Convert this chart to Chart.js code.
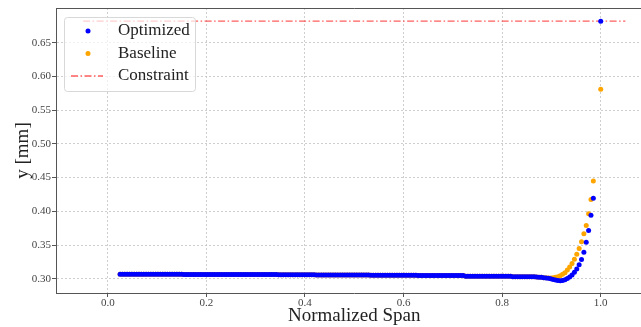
<!DOCTYPE html>
<html><head><meta charset="utf-8">
<script src="https://cdn.jsdelivr.net/npm/chart.js@4/dist/chart.umd.min.js"></script>
<style>
html,body{margin:0;padding:0;background:#fff;overflow:hidden;width:641px;height:327px}
canvas{display:block}
</style></head><body>
<canvas id="c" width="660" height="327" style="width:660px;height:327px"></canvas>
<script>
// Normalized span stations (x)
const spanX = [
0.025,0.0298,0.0346,0.0394,0.0442,0.049,0.0538,0.0586,0.0634,0.0682,
0.073,0.0778,0.0826,0.0874,0.0922,0.097,0.1018,0.1066,0.1114,0.1162,
0.121,0.1258,0.1306,0.1354,0.1402,0.145,0.1498,0.1546,0.1594,0.1642,
0.169,0.1738,0.1786,0.1834,0.1882,0.193,0.1978,0.2026,0.2074,0.2122,
0.217,0.2218,0.2266,0.2314,0.2362,0.241,0.2458,0.2506,0.2554,0.2602,
0.265,0.2698,0.2746,0.2794,0.2842,0.289,0.2938,0.2986,0.3034,0.3082,
0.313,0.3178,0.3226,0.3274,0.3322,0.337,0.3418,0.3466,0.3514,0.3562,
0.361,0.3658,0.3706,0.3754,0.3802,0.385,0.3898,0.3946,0.3994,0.4042,
0.409,0.4138,0.4186,0.4234,0.4282,0.433,0.4378,0.4426,0.4474,0.4522,
0.457,0.4618,0.4666,0.4714,0.4762,0.481,0.4858,0.4906,0.4954,0.5002,
0.505,0.5098,0.5146,0.5194,0.5242,0.529,0.5338,0.5386,0.5434,0.5482,
0.553,0.5578,0.5626,0.5674,0.5722,0.577,0.5818,0.5866,0.5914,0.5962,
0.601,0.6058,0.6106,0.6154,0.6202,0.625,0.6298,0.6346,0.6394,0.6442,
0.649,0.6538,0.6586,0.6634,0.6682,0.673,0.6778,0.6826,0.6874,0.6922,
0.697,0.7018,0.7066,0.7114,0.7162,0.721,0.7258,0.7306,0.7354,0.7402,
0.745,0.7498,0.7546,0.7594,0.7642,0.769,0.7738,0.7786,0.7834,0.7882,
0.793,0.7978,0.8026,0.8074,0.8122,0.817,0.8218,0.8266,0.8314,0.8362,
0.841,0.8458,0.8506,0.8554,0.8602,0.865,0.8698,0.8746,0.8794,0.8842,
0.889,0.8938,0.8986,0.9034,0.9082,0.913,0.9178,0.9226,0.9274,0.9322,
0.937,0.9418,0.9466,0.9514,0.9562,0.961,0.9658,0.9706,0.9754,0.9802,
0.985,1.0
];
// Optimized y [mm]
const optimizedY = [
0.3068,0.3068,0.3068,0.3068,0.3068,0.3068,0.3068,0.3068,0.3068,0.3068,
0.3068,0.3068,0.3068,0.3068,0.3068,0.3068,0.3068,0.3068,0.3068,0.3068,
0.3068,0.3068,0.3068,0.3068,0.3068,0.3068,0.3068,0.3063,0.3063,0.3063,
0.3063,0.3063,0.3063,0.3063,0.3063,0.3063,0.3063,0.3063,0.3063,0.3063,
0.3063,0.3063,0.3063,0.3063,0.3063,0.3063,0.3063,0.3063,0.3063,0.3063,
0.3063,0.3063,0.3063,0.3063,0.3063,0.3063,0.3063,0.3063,0.3063,0.3063,
0.3063,0.3063,0.3063,0.3063,0.3063,0.3063,0.3063,0.3058,0.3058,0.3058,
0.3058,0.3058,0.3058,0.3058,0.3058,0.3058,0.3058,0.3058,0.3058,0.3058,
0.3058,0.3058,0.3058,0.3055,0.3055,0.3055,0.3055,0.3055,0.3055,0.3055,
0.3055,0.3055,0.3055,0.3055,0.3055,0.3055,0.3055,0.3055,0.3055,0.3055,
0.3055,0.3055,0.3055,0.3055,0.3055,0.3055,0.3052,0.3052,0.3052,0.3052,
0.3052,0.3052,0.3052,0.3052,0.3052,0.3052,0.3052,0.3052,0.3052,0.3052,
0.3052,0.3052,0.3052,0.3052,0.3052,0.3052,0.3047,0.3047,0.3047,0.3047,
0.3047,0.3047,0.3047,0.3047,0.3047,0.3047,0.3047,0.3047,0.3047,0.3047,
0.3047,0.3047,0.3047,0.3047,0.3047,0.3047,0.3038,0.3038,0.3038,0.3038,
0.3038,0.3038,0.3038,0.3038,0.3038,0.3038,0.3038,0.3038,0.3038,0.3038,
0.3038,0.3038,0.3038,0.3038,0.3038,0.3038,0.3030,0.3030,0.3030,0.3030,
0.3030,0.3030,0.3030,0.3030,0.3030,0.3030,0.3025,0.3022,0.3020,0.3016,
0.3012,0.3008,0.3000,0.2990,0.2980,0.2972,0.2970,0.2975,0.2985,0.3003,
0.3027,0.3055,0.3094,0.3143,0.3207,0.3285,0.3394,0.3542,0.3715,0.3942,
0.4195,0.682
];
// Baseline y [mm]
const baselineY = [
0.3068,0.3068,0.3068,0.3068,0.3068,0.3068,0.3068,0.3068,0.3068,0.3068,
0.3068,0.3068,0.3068,0.3068,0.3068,0.3068,0.3068,0.3068,0.3068,0.3068,
0.3068,0.3068,0.3068,0.3068,0.3068,0.3068,0.3068,0.3063,0.3063,0.3063,
0.3063,0.3063,0.3063,0.3063,0.3063,0.3063,0.3063,0.3063,0.3063,0.3063,
0.3063,0.3063,0.3063,0.3063,0.3063,0.3063,0.3063,0.3063,0.3063,0.3063,
0.3063,0.3063,0.3063,0.3063,0.3063,0.3063,0.3063,0.3063,0.3063,0.3063,
0.3063,0.3063,0.3063,0.3063,0.3063,0.3063,0.3063,0.3058,0.3058,0.3058,
0.3058,0.3058,0.3058,0.3058,0.3058,0.3058,0.3058,0.3058,0.3058,0.3058,
0.3058,0.3058,0.3058,0.3055,0.3055,0.3055,0.3055,0.3055,0.3055,0.3055,
0.3055,0.3055,0.3055,0.3055,0.3055,0.3055,0.3055,0.3055,0.3055,0.3055,
0.3055,0.3055,0.3055,0.3055,0.3055,0.3055,0.3052,0.3052,0.3052,0.3052,
0.3052,0.3052,0.3052,0.3052,0.3052,0.3052,0.3052,0.3052,0.3052,0.3052,
0.3052,0.3052,0.3052,0.3052,0.3052,0.3052,0.3047,0.3047,0.3047,0.3047,
0.3047,0.3047,0.3047,0.3047,0.3047,0.3047,0.3047,0.3047,0.3047,0.3047,
0.3047,0.3047,0.3047,0.3047,0.3047,0.3047,0.3038,0.3038,0.3038,0.3038,
0.3038,0.3038,0.3038,0.3038,0.3038,0.3038,0.3038,0.3038,0.3038,0.3038,
0.3038,0.3038,0.3038,0.3038,0.3038,0.3038,0.3030,0.3030,0.3030,0.3030,
0.3030,0.3030,0.3030,0.3030,0.3030,0.3030,0.3025,0.3022,0.3020,0.3016,
0.3014,0.3012,0.3012,0.3015,0.3020,0.3030,0.3045,0.3065,0.3090,0.3128,
0.3175,0.3225,0.3288,0.3362,0.3447,0.3550,0.3668,0.3791,0.3965,0.4176,
0.4450,0.581
];
const constraintX = [-0.05, 1.05];
const constraintY = [0.682, 0.682];
const seriesNames = ['Optimized', 'Baseline', 'Constraint'];
const xTicks = [0.0, 0.2, 0.4, 0.6, 0.8, 1.0];
const yTicks = [0.30, 0.35, 0.40, 0.45, 0.50, 0.55, 0.60, 0.65];
const xTitle = 'Normalized Span';
const yTitle = 'y [mm]';

const SERIF = "'Liberation Serif', 'DejaVu Serif', serif";

const toPoints = (xs, ys) => xs.map((x, i) => ({ x: x, y: ys[i] }));

const framePlugin = {
  id: 'frameAndLegend',
  afterDraw(chart) {
    const ctx = chart.ctx, a = chart.chartArea;
    // top spine
    ctx.save();
    ctx.strokeStyle = '#555';
    ctx.lineWidth = 1;
    ctx.beginPath();
    ctx.moveTo(a.left, Math.round(a.top) + 0.5);
    ctx.lineTo(a.right, Math.round(a.top) + 0.5);
    ctx.stroke();
    // legend
    const x0 = a.left + 8.5, y0 = a.top + 9.5, w = 131, h = 74, r = 3;
    ctx.beginPath();
    ctx.moveTo(x0 + r, y0);
    ctx.lineTo(x0 + w - r, y0); ctx.quadraticCurveTo(x0 + w, y0, x0 + w, y0 + r);
    ctx.lineTo(x0 + w, y0 + h - r); ctx.quadraticCurveTo(x0 + w, y0 + h, x0 + w - r, y0 + h);
    ctx.lineTo(x0 + r, y0 + h); ctx.quadraticCurveTo(x0, y0 + h, x0, y0 + h - r);
    ctx.lineTo(x0, y0 + r); ctx.quadraticCurveTo(x0, y0, x0 + r, y0);
    ctx.closePath();
    ctx.fillStyle = 'rgba(255,255,255,0.7)';
    ctx.fill();
    ctx.strokeStyle = '#d8d8d8';
    ctx.lineWidth = 1;
    ctx.stroke();
    chart.data.datasets.forEach((ds, i) => {
      const cy = y0 + 13.5 + i * 22.5;
      if (ds.showLine) {
        ctx.save();
        ctx.strokeStyle = ds.borderColor;
        ctx.lineWidth = ds.borderWidth;
        ctx.setLineDash(ds.borderDash || []);
        ctx.beginPath();
        ctx.moveTo(x0 + 6.5, cy);
        ctx.lineTo(x0 + 38.5, cy);
        ctx.stroke();
        ctx.restore();
      } else {
        ctx.beginPath();
        ctx.arc(x0 + 23.5, cy, 2.5, 0, Math.PI * 2);
        ctx.fillStyle = ds.backgroundColor;
        ctx.fill();
      }
      ctx.fillStyle = '#222';
      ctx.font = '17px ' + SERIF;
      ctx.textAlign = 'left';
      ctx.textBaseline = 'middle';
      ctx.fillText(ds.label, x0 + 53.5, cy);
    });
    ctx.restore();
  }
};

new Chart(document.getElementById('c'), {
  type: 'scatter',
  data: {
    datasets: [
      {
        label: seriesNames[0],
        data: toPoints(spanX, optimizedY),
        backgroundColor: '#0000ff',
        borderColor: '#0000ff',
        pointRadius: 2.5,
        pointBorderWidth: 0,
        pointHoverRadius: 2.5
      },
      {
        label: seriesNames[1],
        data: toPoints(spanX, baselineY),
        backgroundColor: '#ffa500',
        borderColor: '#ffa500',
        pointRadius: 2.5,
        pointBorderWidth: 0,
        pointHoverRadius: 2.5
      },
      {
        label: seriesNames[2],
        data: toPoints(constraintX, constraintY),
        showLine: true,
        borderColor: 'rgba(255,40,40,0.75)',
        backgroundColor: 'rgba(255,40,40,0.75)',
        borderWidth: 1.3,
        borderDash: [7, 2.5, 1.5, 2.5],
        pointRadius: 0,
        pointHoverRadius: 0
      }
    ]
  },
  options: {
    responsive: false,
    animation: false,
    events: [],
    layout: { padding: { left: 0, top: 8, right: 7.5, bottom: 0 } },
    plugins: { legend: { display: false }, tooltip: { enabled: false } },
    scales: {
      x: {
        type: 'linear',
        min: -0.105,
        max: 1.105,
        afterBuildTicks: s => { s.ticks = xTicks.map(v => ({ value: v })); },
        afterFit: s => { s.height = 34; },
        ticks: {
          callback: v => Number(v).toFixed(1),
          font: { family: SERIF, size: 11 },
          color: '#444',
          padding: 0,
          maxRotation: 0,
          autoSkip: false
        },
        grid: { color: '#c2c2c2', lineWidth: 0.8, tickColor: '#555', tickLength: 4, tickWidth: 1 },
        border: { color: '#555', width: 1, dash: [2, 2] },
        title: { display: true, text: xTitle, font: { family: SERIF, size: 19 }, color: '#222', padding: { top: 0, bottom: 0 } }
      },
      y: {
        type: 'linear',
        min: 0.2788,
        max: 0.7016,
        afterBuildTicks: s => { s.ticks = yTicks.map(v => ({ value: v })); },
        afterFit: s => { s.width = 56; },
        ticks: {
          callback: v => Number(v).toFixed(2),
          font: { family: SERIF, size: 11 },
          color: '#444',
          padding: 1,
          autoSkip: false
        },
        grid: { color: '#c2c2c2', lineWidth: 0.8, tickColor: '#555', tickLength: 4, tickWidth: 1 },
        border: { color: '#555', width: 1, dash: [2, 2] },
        title: { display: true, text: yTitle, font: { family: SERIF, size: 19 }, color: '#222', padding: { top: 12, bottom: 0 } }
      }
    }
  },
  plugins: [framePlugin]
});
</script>
</body></html>
